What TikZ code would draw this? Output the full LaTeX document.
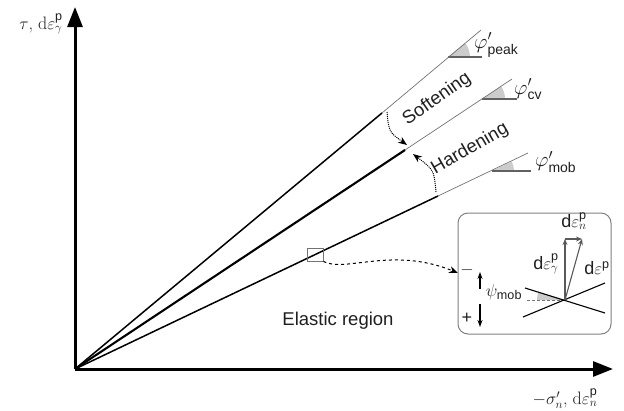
\documentclass[tikz,border=0pt]{standalone}
\usepackage{amsmath}
\usepackage{fontspec}
\setmainfont{Liberation Sans}
\newfontfamily\lmr{Latin Modern Roman}
\usetikzlibrary{arrows.meta}
\begin{document}
\begin{tikzpicture}[x=1pt,y=-1pt,
  axis/.style={line width=3pt, -{Triangle[length=20pt,width=15pt]}},
  blk/.style={line width=1.5pt},
  blkthick/.style={line width=2.1pt},
  thinline/.style={line width=0.7pt, draw=black!55},
  angl/.style={line width=2pt, draw=black!62},
  wedge/.style={fill=black!20},
  dotarrow/.style={line width=1pt, densely dotted, -{Stealth[length=9pt,width=7pt]}},
  lbl/.style={font=\fontsize{18.5}{20}\selectfont, inner sep=0pt, text=black!88},
  phil/.style={font=\fontsize{20}{22}\selectfont, inner sep=0pt, text=black!88},
  slbl/.style={font=\fontsize{18}{20}\selectfont, inner sep=0pt, text=black!88},
  vec/.style={line width=1.1pt, draw=black!65, -{Stealth[length=6pt,width=5pt]}},
]
\useasboundingbox (0,0) rectangle (624,410);
% coordinates
\coordinate (O) at (75,369);
\coordinate (Ytip) at (75,7);
\coordinate (Xtip) at (613,369);
\coordinate (P) at (481,30);  \coordinate (Pb) at (382,113);
\coordinate (C) at (512,79);  \coordinate (Cb) at (405,150);
\coordinate (M) at (528,153); \coordinate (Mb) at (438,196);
\coordinate (V1) at (448,57);  \coordinate (V1e) at (482,57);
\coordinate (V2) at (482,99);  \coordinate (V2e) at (517,99);
\coordinate (V3) at (492,171); \coordinate (V3e) at (531,171);
% wedges
\fill[wedge] (V1) -- ++(22,0) arc[start angle=0,end angle=-39.9,radius=22] -- cycle;
\fill[wedge] (V2) -- ++(23,0) arc[start angle=0,end angle=-33.6,radius=23] -- cycle;
\fill[wedge] (V3) -- ++(22,0) arc[start angle=0,end angle=-25.5,radius=22] -- cycle;
\draw[angl] (V1) -- (V1e);
\draw[angl] (V2) -- (V2e);
\draw[angl] (V3) -- (V3e);
% lines
\draw[thinline] (Pb) -- (P);
\draw[thinline] (Cb) -- (C);
\draw[thinline] (Mb) -- (M);
\draw[blk] (O) -- (Pb);
\draw[blkthick] (O) -- (Cb);
\draw[blk] (O) -- (Mb);
% axes
\draw[axis] (O) -- (Ytip);
\draw[axis] (O) -- (Xtip);
% angle labels
\node[phil, anchor=west] (phipeak) at (474,45) {$\varphi'_{\text{peak}}$};
\node[phil, anchor=west] (phicv) at (514,89) {$\varphi'_{\text{cv}}$};
\node[phil, anchor=west] (phimob) at (535,162) {$\varphi'_{\text{mob}}$};
% axis labels
\node[slbl] (ylab) at (41,24) {$\tau${\lmr,} {\lmr d}$\varepsilon^{\text{p}}_{\gamma}$};
\node[slbl] (xlab) at (565,399) {$-\sigma'_{n}${\lmr,} {\lmr d}$\varepsilon^{\text{p}}_{n}$};
% softening / hardening
\node[lbl, rotate=35] (soft) at (437,99) {Softening};
\node[lbl, rotate=30] (hard) at (470,149) {Hardening};
\coordinate (S1) at (387,112); \coordinate (S2) at (407,145);
\coordinate (H1) at (436,192); \coordinate (H2) at (413,154);
\draw[dotarrow] (S1) .. controls (389,132) .. (S2);
\draw[dotarrow] (H1) .. controls (434,170) .. (H2);
% elastic region
\node[lbl] (elastic) at (338,321) {Elastic region};
% small square and link
\node[draw=black!55, line width=0.9pt, minimum width=16pt, minimum height=13pt, inner sep=0pt] (sq) at (315,254.5) {};
\coordinate (inarr) at (458,273);
\draw[line width=1pt, dash pattern=on 3pt off 3pt, -{Stealth[length=9pt,width=7pt]}] (sq.south east) .. controls (345,273) and (392,246) .. (inarr);
% inset
\node[draw=black!50, line width=1pt, rounded corners=10pt, minimum width=153pt, minimum height=121pt, inner sep=0pt] (inset) at (534.5,273.5) {};
\coordinate (X) at (565,300);
\coordinate (A1) at (525,288); \coordinate (A2) at (605,313);
\coordinate (B1) at (523,317); \coordinate (B2) at (605,283);
\fill[wedge] (X) -- ++(-28,0) arc[start angle=180,end angle=197.4,radius=28] -- cycle;
\draw[black!55, line width=0.9pt, dash pattern=on 3pt off 2pt] (X) -- (527,300);
\draw[line width=1.1pt] (A1) -- (A2);
\draw[line width=1.1pt] (B1) -- (B2);
\coordinate (G) at (565,239);
\coordinate (E) at (582,239);
\draw[vec] (X) -- (G);
\draw[vec] (G) -- (E);
\draw[vec] (X) -- (E);
\node[slbl] (den) at (574,221) {d$\varepsilon^{\text{p}}_{n}$};
\node[slbl] (deg) at (546,264) {d$\varepsilon^{\text{p}}_{\gamma}$};
\node[slbl] (de) at (597,268) {d$\varepsilon^{\text{p}}$};
\node[slbl] (psi) at (504,292) {$\psi_{\text{mob}}$};
\node[slbl] (minus) at (467,270) {$-$};
\node[slbl] (plus) at (467,318) {+};
\coordinate (pu1) at (480,289); \coordinate (pu2) at (480,272);
\coordinate (pd1) at (480,304); \coordinate (pd2) at (480,327);
\draw[line width=1.1pt, -{Stealth[length=7pt,width=5pt]}] (pu1) -- (pu2);
\draw[line width=1.1pt, -{Stealth[length=7pt,width=5pt]}] (pd1) -- (pd2);
\end{tikzpicture}
\end{document}
